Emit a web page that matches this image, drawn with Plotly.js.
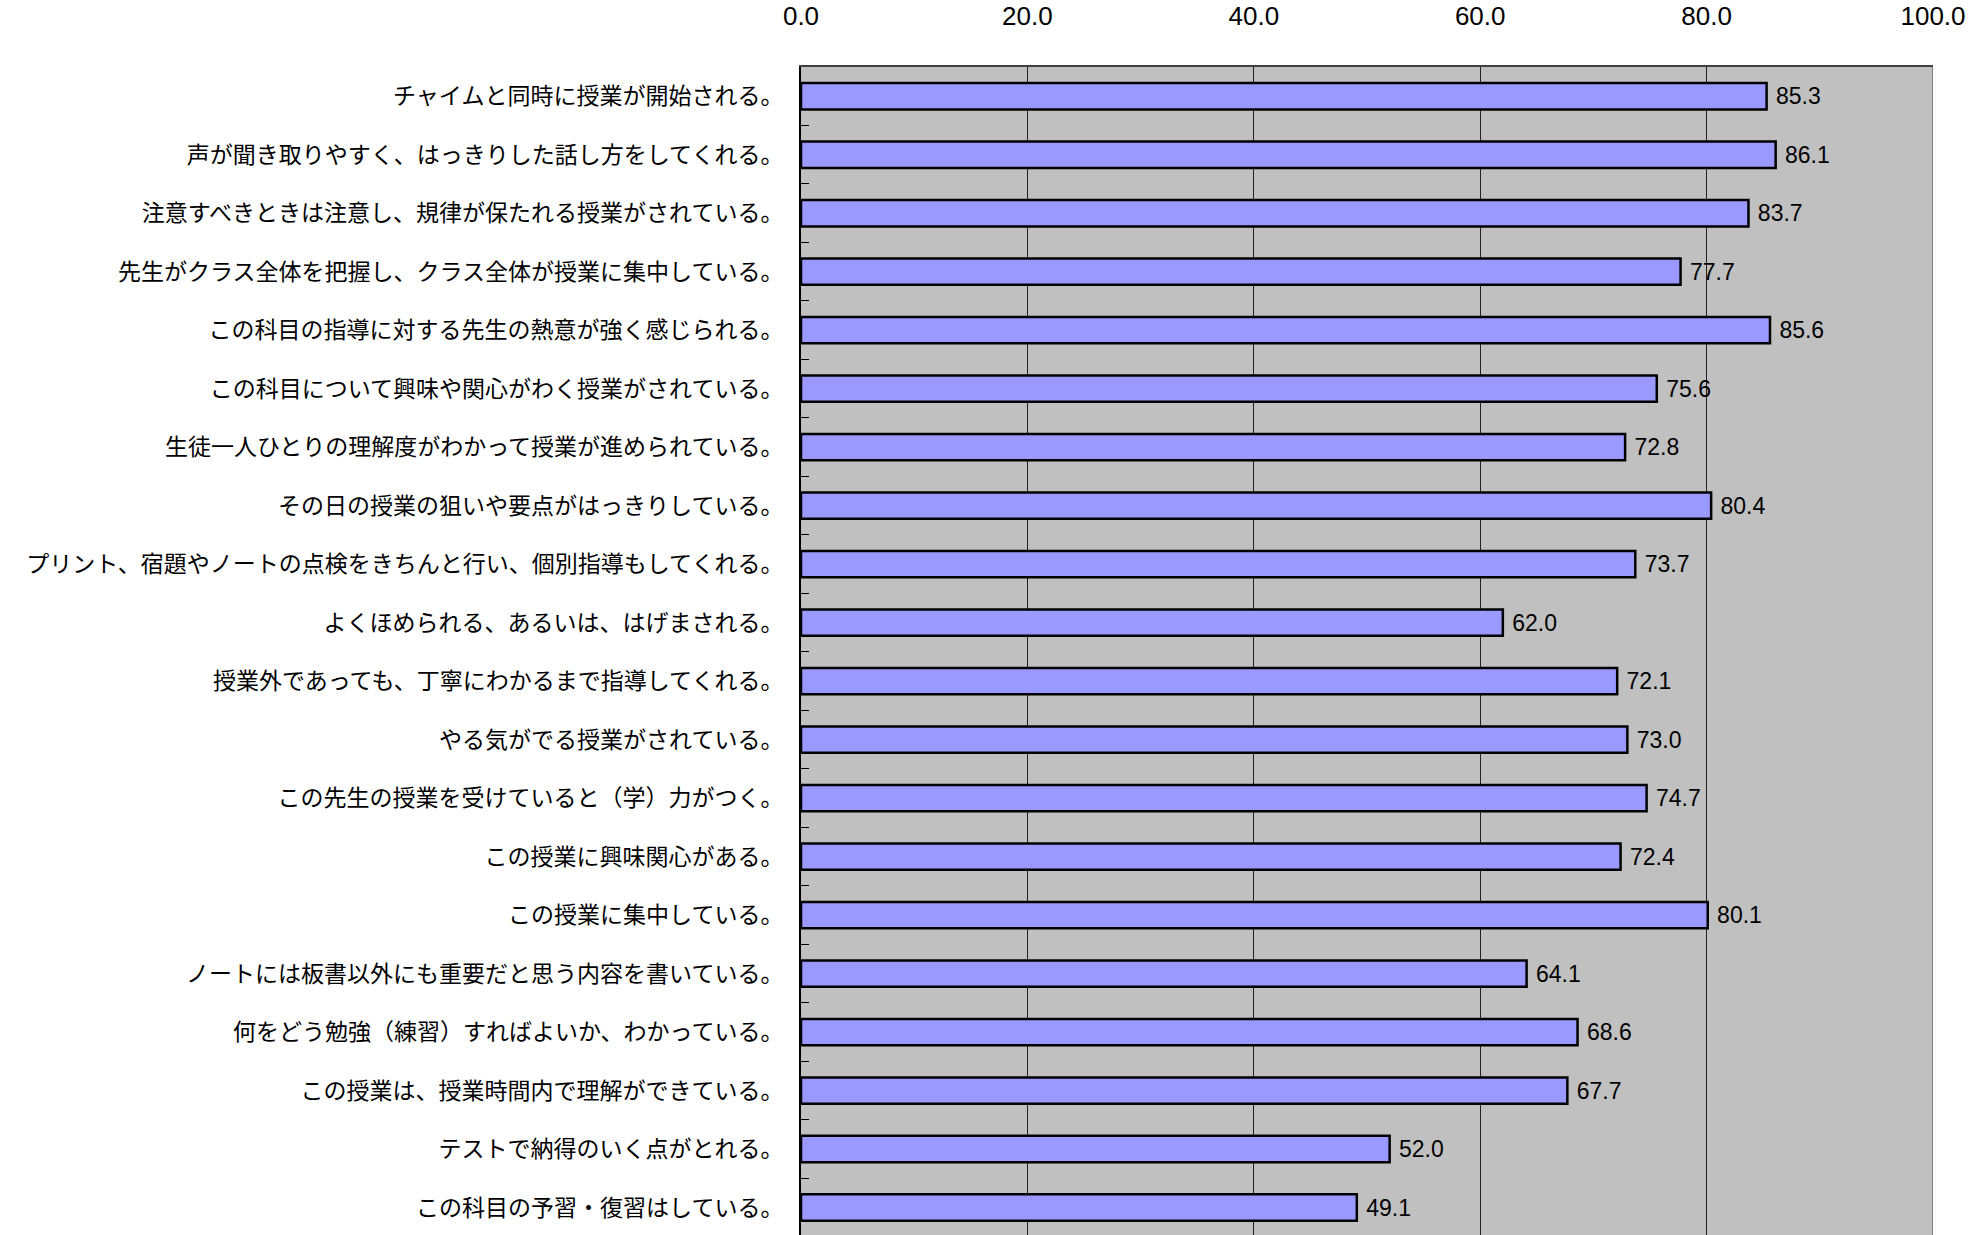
<!DOCTYPE html>
<html>
<head>
<meta charset="utf-8">
<script src="https://cdn.plot.ly/plotly-3.0.1.min.js"></script>
<style>
html,body{margin:0;padding:0;background:#fff;overflow:hidden;}
#chart{width:1981px;height:1235px;}
</style>
</head>
<body>
<div id="chart"></div>
<script>
const categories = [
  "チャイムと同時に授業が開始される。",
  "声が聞き取りやすく、はっきりした話し方をしてくれる。",
  "注意すべきときは注意し、規律が保たれる授業がされている。",
  "先生がクラス全体を把握し、クラス全体が授業に集中している。",
  "この科目の指導に対する先生の熱意が強く感じられる。",
  "この科目について興味や関心がわく授業がされている。",
  "生徒一人ひとりの理解度がわかって授業が進められている。",
  "その日の授業の狙いや要点がはっきりしている。",
  "プリント、宿題やノートの点検をきちんと行い、個別指導もしてくれる。",
  "よくほめられる、あるいは、はげまされる。",
  "授業外であっても、丁寧にわかるまで指導してくれる。",
  "やる気がでる授業がされている。",
  "この先生の授業を受けていると（学）力がつく。",
  "この授業に興味関心がある。",
  "この授業に集中している。",
  "ノートには板書以外にも重要だと思う内容を書いている。",
  "何をどう勉強（練習）すればよいか、わかっている。",
  "この授業は、授業時間内で理解ができている。",
  "テストで納得のいく点がとれる。",
  "この科目の予習・復習はしている。"
];
const values = [85.3, 86.1, 83.7, 77.7, 85.6, 75.6, 72.8, 80.4, 73.7, 62.0,
                72.1, 73.0, 74.7, 72.4, 80.1, 64.1, 68.6, 67.7, 52.0, 49.1];
const xTicks = [0, 20, 40, 60, 80, 100];
const xTickLabels = ["0.0", "20.0", "40.0", "60.0", "80.0", "100.0"];

const trace = {
  type: "bar",
  orientation: "h",
  x: values,
  y: categories,
  width: 0.45,
  marker: {color: "#9999FF", line: {color: "#000000", width: 2.5}},
  text: values.map(v => v.toFixed(1)),
  texttemplate: " %{text}",
  textposition: "outside",
  constraintext: "none",
  cliponaxis: false,
  textfont: {family: "Liberation Sans, Arial, sans-serif", size: 23, color: "#000"},
  hoverinfo: "skip"
};

const layout = {
  width: 1981,
  height: 1235,
  margin: {l: 801, r: 48, t: 67, b: 0, pad: 0},
  paper_bgcolor: "#FFFFFF",
  plot_bgcolor: "#C0C0C0",
  showlegend: false,
  xaxis: {
    side: "top",
    range: [0, 100],
    tickmode: "array",
    tickvals: xTicks,
    ticktext: xTickLabels,
    ticks: "",
    showgrid: true,
    gridcolor: "#222222",
    gridwidth: 1,
    zeroline: false,
    showline: true,
    linecolor: "#404040",
    linewidth: 2,
    ticklabelstandoff: 30,
    tickfont: {family: "Liberation Sans, Arial, sans-serif", size: 26, color: "#000"},
    fixedrange: true
  },
  yaxis: {
    type: "category",
    range: [19.47, -0.5],
    showline: true,
    linecolor: "#000000",
    linewidth: 2,
    ticks: "inside",
    tickson: "boundaries",
    ticklen: 8,
    tickcolor: "#000",
    tickwidth: 1,
    showgrid: false,
    zeroline: false,
    ticklabelstandoff: 11,
    tickfont: {family: "Noto Sans CJK JP, sans-serif", size: 23, color: "#000"},
    fixedrange: true
  },
  shapes: [
    {type: "line", xref: "x", yref: "paper", x0: 100, x1: 100, y0: 0, y1: 1,
     line: {color: "#808080", width: 2}}
  ]
};

Plotly.newPlot("chart", [trace], layout, {displayModeBar: false, staticPlot: true});
</script>
</body>
</html>
